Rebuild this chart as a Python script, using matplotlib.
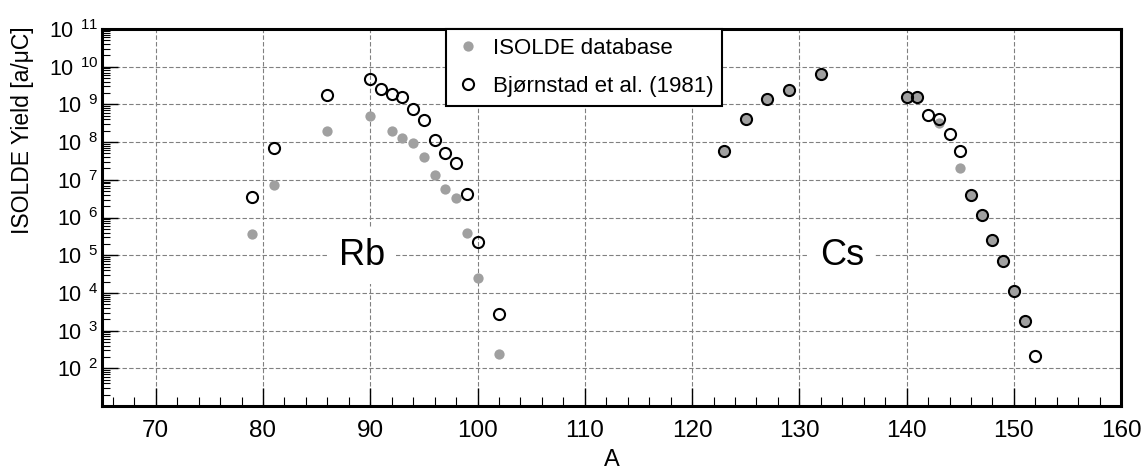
import math
import matplotlib
matplotlib.use("Agg")
import matplotlib.pyplot as plt
from matplotlib.ticker import FixedLocator, LogLocator, FuncFormatter, MultipleLocator, NullFormatter

plt.rcParams['font.family'] = ['Liberation Sans', 'DejaVu Sans']
plt.rcParams['mathtext.fontset'] = 'custom'
plt.rcParams['mathtext.rm'] = 'Liberation Sans'
plt.rcParams['mathtext.it'] = 'Liberation Sans:italic'

# ISOLDE database yields (atoms per microCoulomb)
isolde_A = [79, 81, 86, 90, 92, 93, 94, 95, 96, 97, 98, 99, 100, 102,
            123, 125, 127, 129, 132, 140, 141, 143, 145, 146, 147, 148, 149, 150, 151]
isolde_yield = [3.6e5, 7.1e6, 1.95e8, 4.9e8, 1.95e8, 1.3e8, 9.5e7, 4.0e7, 1.35e7, 5.6e6,
                3.2e6, 4.0e5, 2.45e4, 2.45e2,
                5.8e7, 4.2e8, 1.4e9, 2.35e9, 6.6e9, 1.55e9, 1.55e9, 3.2e8, 2.05e7,
                4.0e6, 1.2e6, 2.5e5, 7.1e4, 1.12e4, 1.8e3]

# Bjornstad et al. (1981)
bjorn_A = [79, 81, 86, 90, 91, 92, 93, 94, 95, 96, 97, 98, 99, 100, 102,
           123, 125, 127, 129, 132, 140, 141, 142, 143, 144, 145, 146, 147, 148, 149, 150, 151, 152]
bjorn_yield = [3.5e6, 6.8e7, 1.8e9, 4.7e9, 2.6e9, 1.85e9, 1.6e9, 7.4e8, 3.8e8, 1.12e8,
               5.2e7, 2.8e7, 4.2e6, 2.3e5, 2.7e3,
               5.8e7, 4.2e8, 1.4e9, 2.35e9, 6.6e9, 1.55e9, 1.55e9, 5.1e8, 4.2e8, 1.65e8,
               5.8e7, 4.0e6, 1.2e6, 2.5e5, 7.1e4, 1.12e4, 1.8e3, 2.1e2]

element_labels = ["Rb", "Cs"]
element_pos = [89.2, 134.0]
element_y = [1e5, 1e5]

x_ticks = [70, 80, 90, 100, 110, 120, 130, 140, 150, 160]
y_exponents = [2, 3, 4, 5, 6, 7, 8, 9, 10, 11]

fig = plt.figure(figsize=(11.48, 4.76), dpi=100)
ax = fig.add_axes([0.0889, 0.147, 0.8877, 0.792])

ax.set_yscale('log')
ax.set_xlim(65, 160)
ax.set_ylim(10, 1e11)

ax.plot(isolde_A, isolde_yield, linestyle='none', marker='o', markersize=7.4,
        markerfacecolor='#a0a0a0', markeredgecolor='none', zorder=3,
        label='ISOLDE database')
ax.plot(bjorn_A, bjorn_yield, linestyle='none', marker='o', markersize=8.0,
        markerfacecolor='none', markeredgecolor='black', markeredgewidth=1.5, zorder=4,
        label='Bjørnstad et al. (1981)')

for lab, xp, yp in zip(element_labels, element_pos, element_y):
    ax.text(xp, yp, lab, fontsize=26, ha='center', va='center', zorder=2,
            bbox=dict(facecolor='white', edgecolor='none', pad=8))

ax.xaxis.set_major_locator(FixedLocator(x_ticks))
ax.xaxis.set_minor_locator(MultipleLocator(2))
ax.yaxis.set_major_locator(FixedLocator([10.0 ** e for e in y_exponents]))
ax.yaxis.set_minor_locator(LogLocator(base=10, subs=[2, 3, 4, 5, 6, 7, 8, 9], numticks=20))
ax.yaxis.set_minor_formatter(NullFormatter())
ax.yaxis.set_major_formatter(FuncFormatter(
    lambda v, p: r'$\mathregular{10^{\;\;%d}}$' % round(math.log10(v))))

ax.grid(True, which='major', color='#808080', linestyle=(0, (4, 2)), linewidth=0.8, zorder=0)
ax.set_axisbelow(True)

ax.tick_params(axis='x', which='major', direction='in', length=13, width=1.0,
               labelsize=17.5, pad=10, top=False)
ax.tick_params(axis='x', which='minor', direction='in', length=6.5, width=0.8, top=False)
ax.tick_params(axis='y', which='major', direction='in', length=11.5, width=1.0,
               labelsize=15.5, pad=3, right=False)
ax.tick_params(axis='y', which='minor', direction='in', length=6, width=0.8, right=False)

for s in ax.spines.values():
    s.set_linewidth(2.2)

ax.set_xlabel('A', fontsize=17)
ax.xaxis.set_label_coords(0.5, -0.115)
ax.set_ylabel('ISOLDE Yield [a/μC]', fontsize=16.5)
ax.yaxis.set_label_coords(-0.0667, 0.732)

leg = ax.legend(loc='upper left', bbox_to_anchor=(0.3376, 1.0), fontsize=16,
                frameon=True, fancybox=False, edgecolor='black', framealpha=1,
                borderaxespad=0, handletextpad=0.5, handlelength=1.2,
                labelspacing=0.77, borderpad=0.4)
leg.get_frame().set_linewidth(1.5)
leg.set_zorder(5)

fig.savefig('out.png', dpi=100)
